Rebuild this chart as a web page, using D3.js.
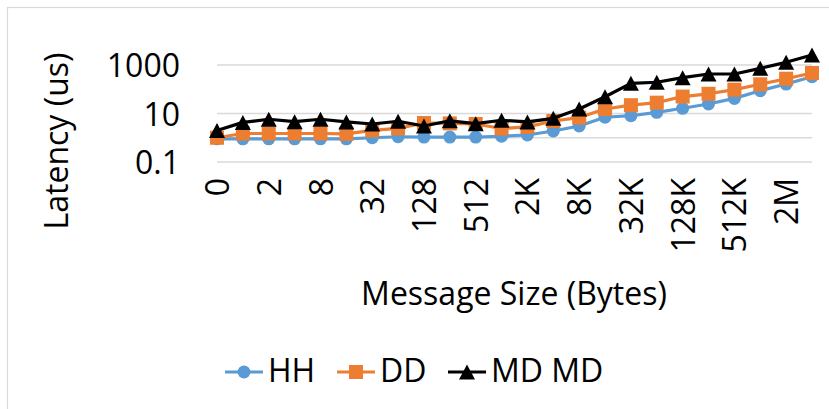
<!DOCTYPE html>
<html>
<head>
<meta charset="utf-8">
<script src="https://cdn.jsdelivr.net/npm/d3@7"></script>
<style>
  html, body { margin: 0; padding: 0; background: #fff; }
  svg { display: block; }
  text { font-family: "Open Sans", "Liberation Sans", sans-serif; fill: #000; }
</style>
</head>
<body>
<svg id="chart" width="829" height="409"></svg>
<script>
// ---- data ----
const categories = ["0","1","2","4","8","16","32","64","128","256","512","1K","2K","4K","8K","16K","32K","64K","128K","256K","512K","1M","2M","4M"];
const xTickLabels = ["0","2","8","32","128","512","2K","8K","32K","128K","512K","2M"];
const yTickLabels = [0.1, 10, 1000];
const yGridValues = [0.1, 1, 10, 1000];
const seriesNames = ["HH", "DD", "MD MD"];
const hhValues = [0.9, 0.9, 0.9, 0.9, 0.9, 0.9, 1.0, 1.1, 1.07, 1.07, 1.07, 1.15, 1.3, 1.9, 3.05, 7.0, 8.1, 11.2, 16.4, 24.6, 42, 87, 164, 330];
const ddValues = [1.0, 1.5, 1.5, 1.5, 1.5, 1.45, 2.0, 2.45, 4.05, 3.9, 3.7, 2.4, 2.8, 4.9, 6.8, 15.3, 22, 28, 50, 65, 96, 160, 272, 470];
const mdValues = [2.0, 4.3, 5.8, 4.6, 5.8, 4.5, 3.7, 4.8, 3.05, 5.0, 3.8, 5.25, 4.5, 6.3, 15.3, 49, 176, 194, 300, 425, 425, 730, 1290, 2580];

const colors = ["#5b9bd5", "#ed7d31", "#000000"];
const shapes = ["circle", "square", "triangle"];
const allSeries = [hhValues, ddValues, mdValues];

const svg = d3.select("#chart");

// chart border (only top/left visible in the crop)
svg.append("rect")
  .attr("x", 7.5).attr("y", 7.5)
  .attr("width", 900).attr("height", 500)
  .attr("fill", "none").attr("stroke", "#d9d9d9").attr("stroke-width", 1.2);

const x = d3.scalePoint().domain(categories).range([217, 812]);
const y = d3.scaleLog().domain([0.1, 1000]).range([162, 65]);

// gridlines
svg.append("g").selectAll("line")
  .data(yGridValues).join("line")
  .attr("x1", x.range()[0]).attr("x2", x.range()[1])
  .attr("y1", d => y(d)).attr("y2", d => y(d))
  .attr("stroke", "#d9d9d9").attr("stroke-width", 1.5);

// y axis labels
const yAxis = svg.append("g").attr("transform", "translate(180,0)")
  .call(d3.axisLeft(y).tickValues(yTickLabels).tickSize(0).tickPadding(0)
        .tickFormat(d => String(d)));
yAxis.select(".domain").remove();
yAxis.selectAll("text").style("font-size", "32px").attr("font-family", null).attr("dy", "0.36em");

// x axis labels
const xLabelMap = new Set(xTickLabels);
const xAxis = svg.append("g").attr("transform", "translate(0,178)")
  .call(d3.axisBottom(x).tickValues(categories.filter(c => xLabelMap.has(c)))
        .tickSize(0).tickPadding(0));
xAxis.select(".domain").remove();
xAxis.selectAll("text")
  .attr("y", 0).attr("x", 0).attr("dy", "0.36em")
  .attr("transform", "rotate(-90)")
  .attr("text-anchor", "end")
  .attr("font-family", null)
  .style("font-size", "32px");

// axis titles
svg.append("text")
  .attr("transform", "translate(68,141) rotate(-90)")
  .attr("text-anchor", "middle")
  .style("font-size", "32px")
  .text("Latency (us)");

svg.append("text")
  .attr("x", 514).attr("y", 305)
  .attr("text-anchor", "middle")
  .style("font-size", "32px")
  .text("Message Size (Bytes)");

// marker drawing
function drawMarker(g, shape, color, cx, cy) {
  if (shape === "circle") {
    g.append("circle").attr("cx", cx).attr("cy", cy).attr("r", 6.5).attr("fill", color);
  } else if (shape === "square") {
    g.append("rect").attr("x", cx - 7).attr("y", cy - 7).attr("width", 14).attr("height", 14).attr("fill", color);
  } else {
    const w = 16, h = 15;
    g.append("path")
      .attr("d", `M${cx},${cy - h/2}L${cx + w/2},${cy + h/2}L${cx - w/2},${cy + h/2}Z`)
      .attr("fill", color);
  }
}

// series
const line = d3.line().x((d, i) => x(categories[i])).y(d => y(d));
allSeries.forEach((vals, si) => {
  const g = svg.append("g");
  g.append("path").datum(vals)
    .attr("d", line)
    .attr("fill", "none")
    .attr("stroke", colors[si])
    .attr("stroke-width", 3.2)
    .attr("stroke-linejoin", "round");
  vals.forEach((v, i) => drawMarker(g, shapes[si], colors[si], x(categories[i]), y(v)));
});

// legend
const legendItems = [
  { lx: 225, tx: 268 },
  { lx: 337, tx: 380 },
  { lx: 448, tx: 491 }
];
const legendY = 372;
seriesNames.forEach((name, si) => {
  const g = svg.append("g");
  const it = legendItems[si];
  g.append("line")
    .attr("x1", it.lx).attr("x2", it.lx + 38)
    .attr("y1", legendY).attr("y2", legendY)
    .attr("stroke", colors[si]).attr("stroke-width", 3.2);
  drawMarker(g, shapes[si], colors[si], it.lx + 19, legendY);
  g.append("text")
    .attr("x", it.tx).attr("y", 382)
    .style("font-size", "32px")
    .text(name);
});
</script>
</body>
</html>
